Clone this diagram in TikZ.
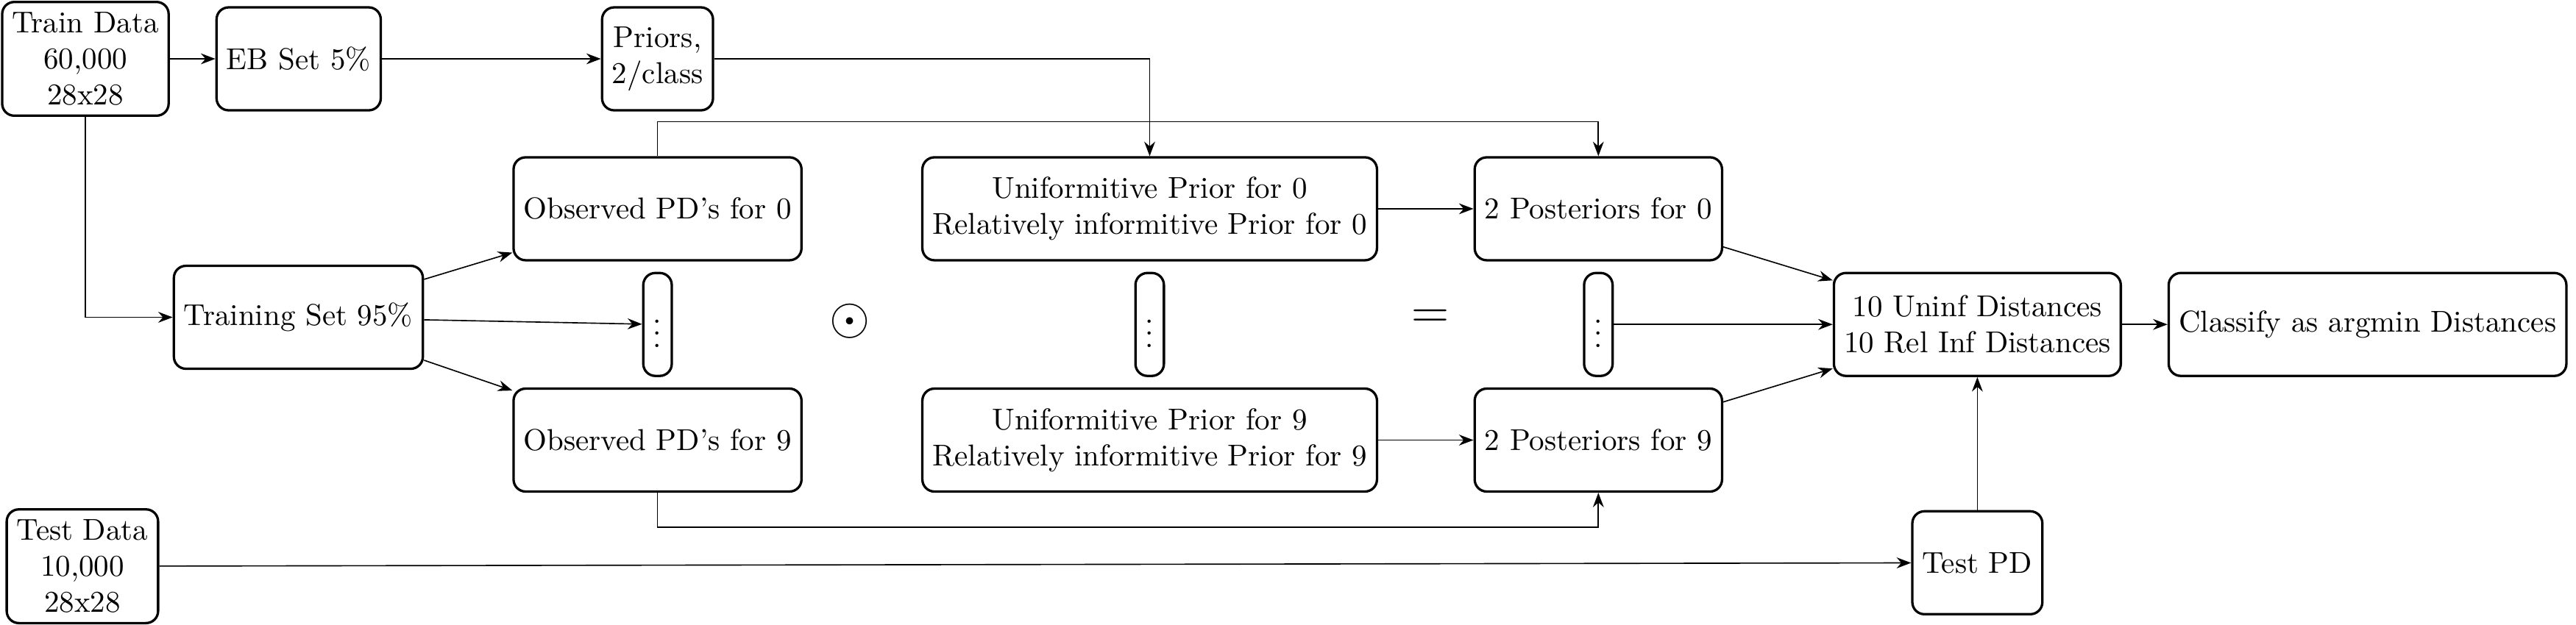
\documentclass[tikz,border=0pt]{standalone}
\usepackage{amsmath,amssymb}
\usetikzlibrary{arrows.meta, positioning, calc}

\begin{document}
\begin{tikzpicture}[
  node distance=0.53cm,
  box/.style={draw, thick, rounded corners=4pt,
              minimum height=1.2cm, align=center},
  arrow/.style={-Stealth},
  sym/.style={font=\LARGE}
]
\useasboundingbox (0,0) rectangle (30.01,-7.28);

\node[box] (train) at (0.995,-0.686) {Train Data\\60,000\\28x28};
\node[box, right=of train] (eb) {EB Set 5\%};
\node[box, right=2.55cm of eb] (priors) {Priors,\\2/class};
\node[box, below=0.52cm of priors] (obs0) {Observed PD's for 0};
\node[box, below=0.12cm of obs0] (dots1) {$\vdots$};
\node[box, below=0.12cm of dots1] (obs9) {Observed PD's for 9};
\node[box, right=1.38cm of obs0] (uninf0) {Uniformitive Prior for 0\\Relatively informitive Prior for 0};
\node[box, below=0.12cm of uninf0] (dots2) {$\vdots$};
\node[box, below=0.12cm of dots2] (uninf9) {Uniformitive Prior for 9\\Relatively informitive Prior for 9};
\node[box, right=1.11cm of uninf0] (post0) {2 Posteriors for 0};
\node[box, below=0.12cm of post0] (dots3) {$\vdots$};
\node[box, below=0.12cm of dots3] (post9) {2 Posteriors for 9};
\node[box, right=2.55cm of dots3] (dist) {10 Uninf Distances\\10 Rel Inf Distances};
\node[box, right=of dist] (classify) {Classify as argmin Distances};
\node[box, below=1.55cm of dist] (testpd) {Test PD};
\node[box] (training) at (3.476,-3.699) {Training Set 95\%};
\node[box] (test) at (0.96,-6.601) {Test Data\\10,000\\28x28};
\node[sym] (odot) at (9.902,-3.746) {$\odot$};
\node[sym] (eq) at (16.666,-3.721) {$=$};

\draw[arrow] (train) -- (eb);
\draw[arrow] (eb) -- (priors);
\draw[arrow] (priors.east) -| (uninf0.north);
\draw[arrow] (obs0.north) -- ++(0,0.4) -| (post0.north);
\draw[arrow] (train.south) |- (training.west);
\draw[arrow] (training) -- (obs0);
\draw[arrow] (training) -- (dots1);
\draw[arrow] (training) -- (obs9);
\draw[arrow] (uninf0) -- (post0);
\draw[arrow] (uninf9) -- (post9);
\draw[arrow] (post0) -- (dist);
\draw[arrow] (dots3) -- (dist);
\draw[arrow] (post9) -- (dist);
\draw[arrow] (obs9.south) -- ++(0,-0.4) -| (post9.south);
\draw[arrow] (test) -- (testpd);
\draw[arrow] (testpd) -- (dist);
\draw[arrow] (dist) -- (classify);
\end{tikzpicture}
\end{document}
